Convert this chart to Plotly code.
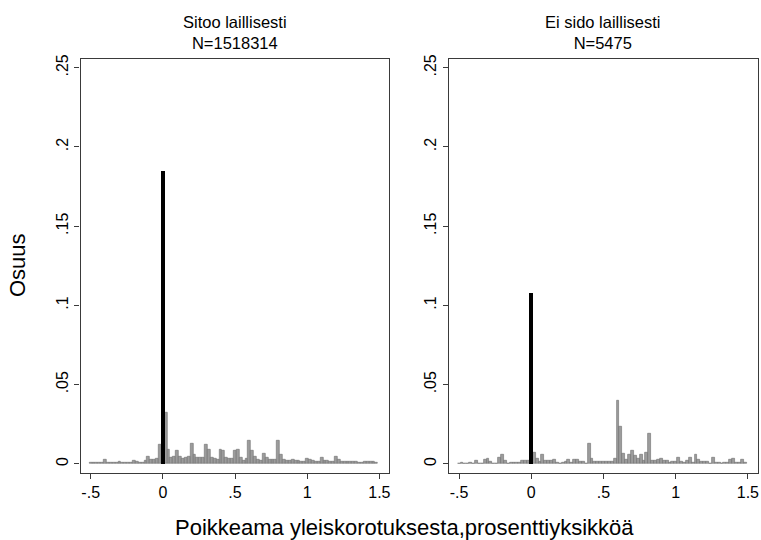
import plotly.graph_objects as go

# Bin centres (width 0.02) of the histogram
bin_centers = [
    -0.50, -0.48, -0.46, -0.44, -0.42, -0.40, -0.38, -0.36, -0.34, -0.32,
    -0.30, -0.28, -0.26, -0.24, -0.22, -0.20, -0.18, -0.16, -0.14, -0.12,
    -0.10, -0.08, -0.06, -0.04, -0.02, 0.00, 0.02, 0.04, 0.06, 0.08,
    0.10, 0.12, 0.14, 0.16, 0.18, 0.20, 0.22, 0.24, 0.26, 0.28,
    0.30, 0.32, 0.34, 0.36, 0.38, 0.40, 0.42, 0.44, 0.46, 0.48,
    0.50, 0.52, 0.54, 0.56, 0.58, 0.60, 0.62, 0.64, 0.66, 0.68,
    0.70, 0.72, 0.74, 0.76, 0.78, 0.80, 0.82, 0.84, 0.86, 0.88,
    0.90, 0.92, 0.94, 0.96, 0.98, 1.00, 1.02, 1.04, 1.06, 1.08,
    1.10, 1.12, 1.14, 1.16, 1.18, 1.20, 1.22, 1.24, 1.26, 1.28,
    1.30, 1.32, 1.34, 1.36, 1.38, 1.40, 1.42, 1.44, 1.46, 1.48,
]

share_binding = [
    0.0006, 0.0006, 0.0005, 0.0005, 0.0006, 0.0025, 0.0010, 0.0005, 0.0006, 0.0010,
    0.0015, 0.0010, 0.0006, 0.0006, 0.0006, 0.0019, 0.0012, 0.0010, 0.0010, 0.0019,
    0.0046, 0.0025, 0.0025, 0.0031, 0.0123, 0.0000, 0.0325, 0.0092, 0.0040, 0.0044,
    0.0081, 0.0044, 0.0035, 0.0040, 0.0046, 0.0129, 0.0060, 0.0040, 0.0040, 0.0040,
    0.0123, 0.0092, 0.0040, 0.0031, 0.0025, 0.0092, 0.0085, 0.0040, 0.0031, 0.0031,
    0.0081, 0.0087, 0.0040, 0.0023, 0.0035, 0.0148, 0.0085, 0.0044, 0.0029, 0.0019,
    0.0067, 0.0040, 0.0027, 0.0029, 0.0029, 0.0144, 0.0060, 0.0029, 0.0019, 0.0019,
    0.0025, 0.0019, 0.0023, 0.0017, 0.0017, 0.0035, 0.0029, 0.0023, 0.0017, 0.0017,
    0.0037, 0.0019, 0.0023, 0.0015, 0.0015, 0.0046, 0.0029, 0.0017, 0.0012, 0.0012,
    0.0017, 0.0017, 0.0017, 0.0010, 0.0010, 0.0017, 0.0012, 0.0012, 0.0012, 0.0010,
]

share_nonbinding = [
    0.0004, 0.0008, 0.0000, 0.0004, 0.0008, 0.0004, 0.0021, 0.0000, 0.0004, 0.0025,
    0.0031, 0.0017, 0.0000, 0.0004, 0.0037, 0.0056, 0.0021, 0.0000, 0.0010, 0.0010,
    0.0010, 0.0010, 0.0019, 0.0019, 0.0019, 0.0000, 0.0073, 0.0035, 0.0017, 0.0058,
    0.0021, 0.0021, 0.0021, 0.0027, 0.0010, 0.0004, 0.0006, 0.0017, 0.0027, 0.0010,
    0.0029, 0.0027, 0.0013, 0.0015, 0.0004, 0.0127, 0.0035, 0.0015, 0.0017, 0.0015,
    0.0017, 0.0015, 0.0015, 0.0017, 0.0031, 0.0400, 0.0233, 0.0062, 0.0027, 0.0058,
    0.0083, 0.0052, 0.0035, 0.0058, 0.0021, 0.0073, 0.0190, 0.0021, 0.0021, 0.0025,
    0.0031, 0.0019, 0.0019, 0.0008, 0.0017, 0.0017, 0.0042, 0.0012, 0.0008, 0.0021,
    0.0037, 0.0008, 0.0058, 0.0025, 0.0015, 0.0015, 0.0015, 0.0004, 0.0042, 0.0010,
    0.0010, 0.0004, 0.0006, 0.0006, 0.0027, 0.0031, 0.0008, 0.0008, 0.0025, 0.0008,
]

spike_x = [0.0]
spike_binding = [0.185]
spike_nonbinding = [0.108]

panel_titles = ["Sitoo laillisesti<br>N=1518314", "Ei sido laillisesti<br>N=5475"]
x_tickvals = [-0.5, 0, 0.5, 1, 1.5]
x_ticktext = ["-.5", "0", ".5", "1", "1.5"]
y_tickvals = [0, 0.05, 0.1, 0.15, 0.2, 0.25]
y_ticktext = ["0", ".05", ".1", ".15", ".2", ".25"]
x_title = "Poikkeama yleiskorotuksesta,prosenttiyksikköä"
y_title = "Osuus"

FONT = "Liberation Sans, Arial, sans-serif"
W, H = 761, 540
frame_color = "#3a3a3a"

fig = go.Figure()

for i, (vals, spike) in enumerate([(share_binding, spike_binding), (share_nonbinding, spike_nonbinding)]):
    xa = "x" if i == 0 else "x2"
    ya = "y" if i == 0 else "y2"
    fig.add_trace(go.Bar(
        x=bin_centers, y=vals, width=0.02, xaxis=xa, yaxis=ya,
        marker=dict(color="#9c9c9c", line=dict(color="#6e6e6e", width=0.6)),
        showlegend=False, hoverinfo="x+y",
    ))
    fig.add_trace(go.Bar(
        x=spike_x, y=spike, width=0.028, xaxis=xa, yaxis=ya,
        marker=dict(color="#000000", line=dict(width=0)),
        showlegend=False,
    ))

px_l = [80.7, 449.5]
px_r = [390.0, 759.0]
y_top, y_bot = 55.0, 472.7
ydom = [(H - y_bot) / H, (H - y_top) / H]

axis_common = dict(
    showline=True, linecolor=frame_color, linewidth=1.2, mirror=True,
    showgrid=False, zeroline=False, ticks="outside", ticklen=5,
    tickcolor=frame_color, tickwidth=1.2,
    tickfont=dict(family=FONT, size=16, color="#000000"),
)

layout = dict(
    width=W, height=H, margin=dict(l=0, r=0, t=0, b=0),
    paper_bgcolor="white", plot_bgcolor="white",
    barmode="overlay", bargap=0,
    font=dict(family=FONT, color="#000000"),
    annotations=[],
)
for i in range(2):
    sfx = "" if i == 0 else "2"
    layout["xaxis" + sfx] = dict(
        domain=[px_l[i] / W, px_r[i] / W], range=[-0.57, 1.57],
        tickvals=x_tickvals, ticktext=x_ticktext, anchor="y" + sfx,
        **axis_common,
    )
    layout["yaxis" + sfx] = dict(
        domain=ydom, range=[-0.0059, 0.2558],
        tickvals=y_tickvals, ticktext=y_ticktext, tickangle=-90,
        anchor="x" + sfx, **axis_common,
    )
    layout["annotations"].append(dict(
        text=panel_titles[i], xref="paper", yref="paper",
        x=(px_l[i] + px_r[i]) / 2 / W, y=(H - 28.5) / H,
        xanchor="center", yanchor="middle", showarrow=False,
        font=dict(family=FONT, size=16.5, color="#000000"),
    ))

layout["annotations"].append(dict(
    text=x_title, xref="paper", yref="paper", x=405 / W, y=(H - 527.5) / H,
    xanchor="center", yanchor="middle", showarrow=False,
    font=dict(family=FONT, size=22, color="#000000"),
))
layout["annotations"].append(dict(
    text=y_title, xref="paper", yref="paper", x=17 / W, y=(H - 263) / H,
    xanchor="center", yanchor="middle", showarrow=False, textangle=-90,
    font=dict(family=FONT, size=22, color="#000000"),
))

fig.update_layout(**layout)
fig.write_html("out.html", config={"displayModeBar": False})

# remove the browser's default page margin so the figure sits at (0, 0)
with open("out.html", "r", encoding="utf-8") as f:
    html = f.read()
html = html.replace(
    "<head>",
    "<head><style>html,body{margin:0;padding:0;overflow:hidden;}</style>",
    1,
)
with open("out.html", "w", encoding="utf-8") as f:
    f.write(html)
